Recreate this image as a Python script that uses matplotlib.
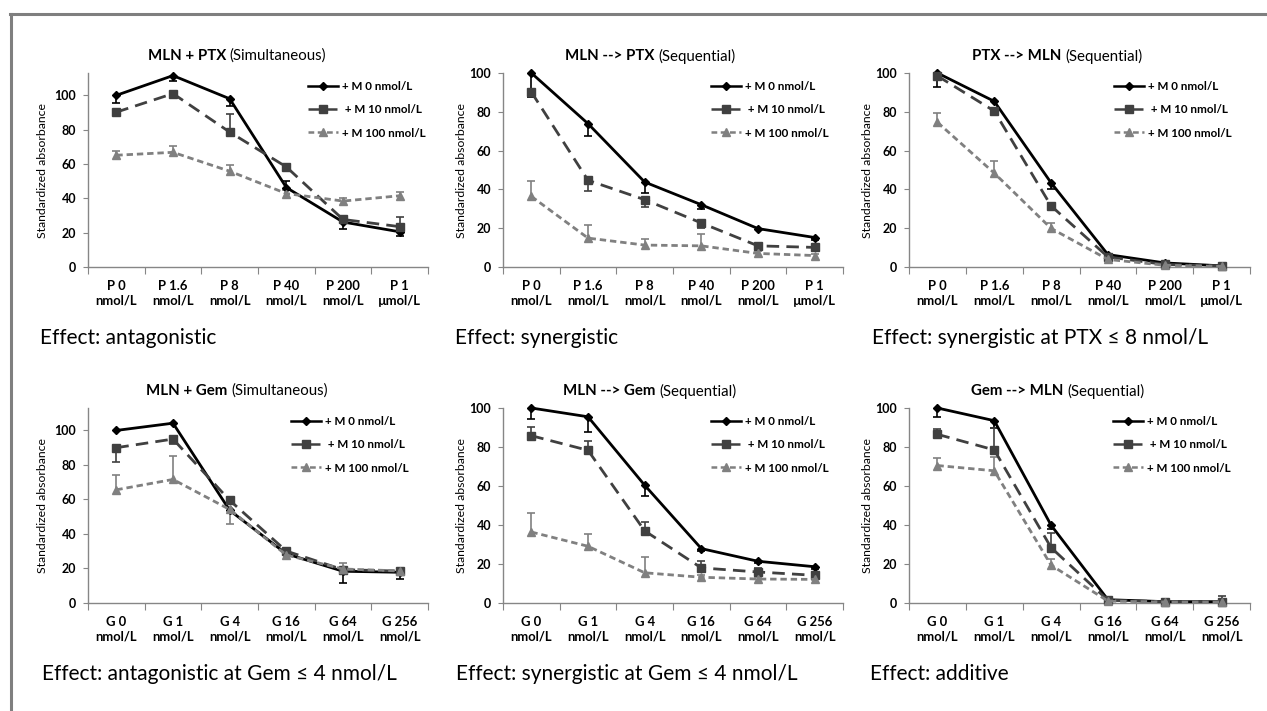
import matplotlib
matplotlib.use("Agg")
import matplotlib.pyplot as plt
import numpy as np
from matplotlib.lines import Line2D

W, H = 1267, 711
FONT = ["Lato", "DejaVu Sans"]
plt.rcParams["font.family"] = FONT

# --- data -----------------------------------------------------------------
ptx_cats = ["P 0\nnmol/L", "P 1.6\nnmol/L", "P 8\nnmol/L", "P 40\nnmol/L",
            "P 200\nnmol/L", "P 1\nµmol/L"]
gem_cats = ["G 0\nnmol/L", "G 1\nnmol/L", "G 4\nnmol/L", "G 16\nnmol/L",
            "G 64\nnmol/L", "G 256\nnmol/L"]
series_names = ["+ M 0 nmol/L", " + M 10 nmol/L", "+ M 100 nmol/L"]

# values per series (M0, M10, M100); errors are signed: + drawn up, - drawn down
p1_vals = [[100, 111.5, 98, 46.3, 26.2, 20.5],
           [90.2, 101, 78.6, 58.3, 27.7, 23.5],
           [65.1, 66.8, 55.8, 42.8, 38.4, 41.5]]
p1_errs = [[-4.5, -3, -4, 4, -3.8, -2.5],
           [0, 0, 10.6, 0, 1.5, 5.5],
           [2.5, 3.8, 3.5, 2, 1.8, 2]]

p2_vals = [[100, 73.9, 43.8, 32.1, 19.8, 15.2],
           [90.2, 44.7, 34.7, 22.7, 10.9, 10.1],
           [36.4, 14.9, 11.3, 10.9, 7.0, 5.9]]
p2_errs = [[-12.5, -6.4, -5.7, -2, 0, -1.5],
           [0, -5.5, -3.8, -2.6, 0, 0],
           [7.9, 6.6, 3.2, 5.9, 1, 1]]

p3_vals = [[100, 85.4, 43.4, 6.4, 2.1, 0.6],
           [98.5, 80.4, 31.5, 5.2, 1.3, 0.6],
           [74.6, 48.4, 19.9, 3.9, 0.9, 0.3]]
p3_errs = [[-7.3, 0, -3, 0, 0, 0],
           [0, 0, 0, 0, 0, 0],
           [5, 6.2, 2.9, 0, 0, 0]]

p4_vals = [[100, 104.2, 53.7, 28.5, 18.4, 17.8],
           [90, 95, 59.5, 30.1, 19.3, 18.5],
           [65.6, 71.6, 54.2, 27.8, 19.7, 18.6]]
p4_errs = [[0, 0, 0, 0, -6.9, -4],
           [-8.2, -3, 0, 0, 0, 0],
           [8.7, 13.5, -8.3, 0, 3.5, 0]]

p5_vals = [[100, 95.5, 60.4, 27.9, 21.4, 18.6],
           [85.8, 78.3, 37.0, 18.0, 15.9, 14.2],
           [36.4, 29.1, 15.5, 13.2, 12.3, 12.1]]
p5_errs = [[-5.8, -7.7, -5.4, -1, -1, -1],
           [4.3, 4.8, 4.3, 3.6, 2, 1],
           [9.6, 6.2, 7.9, 1, 1, 1]]

p6_vals = [[100, 93.5, 39.9, 1.7, 0.7, 0.7],
           [86.5, 78.5, 28.4, 1.4, 0.7, 0.7],
           [70.5, 67.8, 19.4, 1.0, 0.5, 0.5]]
p6_errs = [[-4.8, -4, -2, 0, 0, 0],
           [2.6, 11, 7.6, 0, 0, 3],
           [3.8, 7, 3.3, 0, 0, 0]]

titles = [("MLN + PTX", "(Simultaneous)"), ("MLN --> PTX", "(Sequential)"),
          ("PTX --> MLN", "(Sequential)"), ("MLN + Gem", "(Simultaneous)"),
          ("MLN --> Gem", "(Sequential)"), ("Gem --> MLN", "(Sequential)")]
effects = ["Effect: antagonistic", "Effect: synergistic",
           "Effect: synergistic at PTX \u2264 8 nmol/L",
           "Effect: antagonistic at Gem \u2264 4 nmol/L",
           "Effect: synergistic at Gem \u2264 4 nmol/L", "Effect: additive"]

# --- styling --------------------------------------------------------------
STYLES = [
    dict(color="#000000", lw=2.0, ls="-", marker="D", ms=4.0),
    dict(color="#404040", lw=2.0, ls=(0, (4.5, 2.6)), marker="s", ms=5.6),
    dict(color="#808080", lw=2.0, ls=(0, (2.3, 1.4)), marker="^", ms=6.2),
]
AXIS_GREY = "#868686"

# pixel layout: (x_left, x_right, y_top, y_bottom), title centre x, ylabel x, legend x
BOXES = [(88, 428, 73, 267), (503, 843, 73, 267), (909, 1250, 73, 267),
         (88, 428, 408, 603), (503, 843, 408, 603), (909, 1250, 408, 603)]
TITLE_X = [237, 650, 1057, 237, 650, 1058]
YLAB_X = [48, 467, 873, 48, 467, 873]
LEG_X = [308, 711, 1114, 291, 711, 1113]
EFFECT_X = [40, 455, 872, 42, 456, 870]
YMAX = [113, 100, 100, 113, 100, 100]

fig = plt.figure(figsize=(W / 100, H / 100), dpi=100)
renderer = fig.canvas.get_renderer()


def two_part_title(cx, cy, bold, normal):
    t1 = fig.text(0, 1 - cy / H, bold, weight="bold", size=10.8, va="center")
    t2 = fig.text(0, 1 - cy / H, normal, size=10.8, va="center")
    w1 = t1.get_window_extent(renderer).width
    w2 = t2.get_window_extent(renderer).width
    gap = 4
    left = cx - (w1 + gap + w2) / 2
    t1.set_x(left / W)
    t2.set_x((left + w1 + gap) / W)


def draw_panel(i, cats, vals, errs):
    x0, x1, yt, yb = BOXES[i]
    ax = fig.add_axes([x0 / W, 1 - yb / H, (x1 - x0) / W, (yb - yt) / H])
    xs = np.arange(len(cats))
    handles = []
    for s in range(3):
        st = STYLES[s]
        v = np.array(vals[s], dtype=float)
        e = np.array(errs[s], dtype=float)
        m = e != 0
        tips = v + e
        ax.vlines(xs[m], v[m], tips[m], color=st["color"], lw=1.2, zorder=2)
        ax.plot(xs[m], tips[m], ls="none", marker="_", ms=6, mew=1.2,
                color=st["color"], zorder=2, clip_on=False)
        ln, = ax.plot(xs, v, color=st["color"], lw=st["lw"], ls=st["ls"],
                      marker=st["marker"], ms=st["ms"], mfc=st["color"],
                      mec=st["color"], label=series_names[s], zorder=3,
                      clip_on=False)
        handles.append(ln)

    ax.set_xlim(-0.5, len(cats) - 0.5)
    ax.set_ylim(0, YMAX[i])
    ax.set_yticks([0, 20, 40, 60, 80, 100])
    ax.set_xticks(np.arange(-0.5, len(cats), 1))
    ax.set_xticklabels([])
    ax.set_xticks(xs, minor=True)
    ax.set_xticklabels(cats, minor=True, fontsize=9.4, fontweight="bold",
                       linespacing=1.3)
    ax.tick_params(axis="x", which="major", length=5, width=0.8, color=AXIS_GREY)
    ax.tick_params(axis="x", which="minor", length=0, pad=9)
    ax.tick_params(axis="y", length=3.5, width=0.8, color=AXIS_GREY, pad=5,
                   labelsize=9.0)
    for lab in ax.get_yticklabels():
        lab.set_fontweight("bold")
    for side in ("top", "right"):
        ax.spines[side].set_visible(False)
    for side in ("left", "bottom"):
        ax.spines[side].set_color(AXIS_GREY)
        ax.spines[side].set_linewidth(1.0)

    ax.set_ylabel("Standardized absorbance", fontsize=8.8)
    ax.yaxis.set_label_coords((YLAB_X[i] - x0) / (x1 - x0), 0.5)

    leg = ax.legend(handles=handles, loc="upper left",
                    bbox_to_anchor=((LEG_X[i] - x0) / (x1 - x0), 1 - 8 / (yb - yt)),
                    frameon=False, borderaxespad=0, borderpad=0,
                    handlelength=2.6, handletextpad=0.35, labelspacing=1.05,
                    numpoints=1, prop=dict(family=FONT, size=8.4, weight="bold"))
    for h in leg.legend_handles:
        h.set_linewidth(1.8)

    two_part_title(TITLE_X[i], yt - 17, *titles[i])
    fig.text(EFFECT_X[i] / W, 1 - (yb + 77) / H, effects[i], size=15,
             va="baseline", family=FONT)
    return ax


draw_panel(0, ptx_cats, p1_vals, p1_errs)
draw_panel(1, ptx_cats, p2_vals, p2_errs)
draw_panel(2, ptx_cats, p3_vals, p3_errs)
draw_panel(3, gem_cats, p4_vals, p4_errs)
draw_panel(4, gem_cats, p5_vals, p5_errs)
draw_panel(5, gem_cats, p6_vals, p6_errs)

# grey frame (top and left edges visible)
fig.add_artist(Line2D([10 / W, 1], [1 - 14 / H, 1 - 14 / H], color="#7f7f7f", lw=2.2))
fig.add_artist(Line2D([11 / W, 11 / W], [1 - 14 / H, 0], color="#7f7f7f", lw=2.2))

fig.savefig("out.png", dpi=100)
